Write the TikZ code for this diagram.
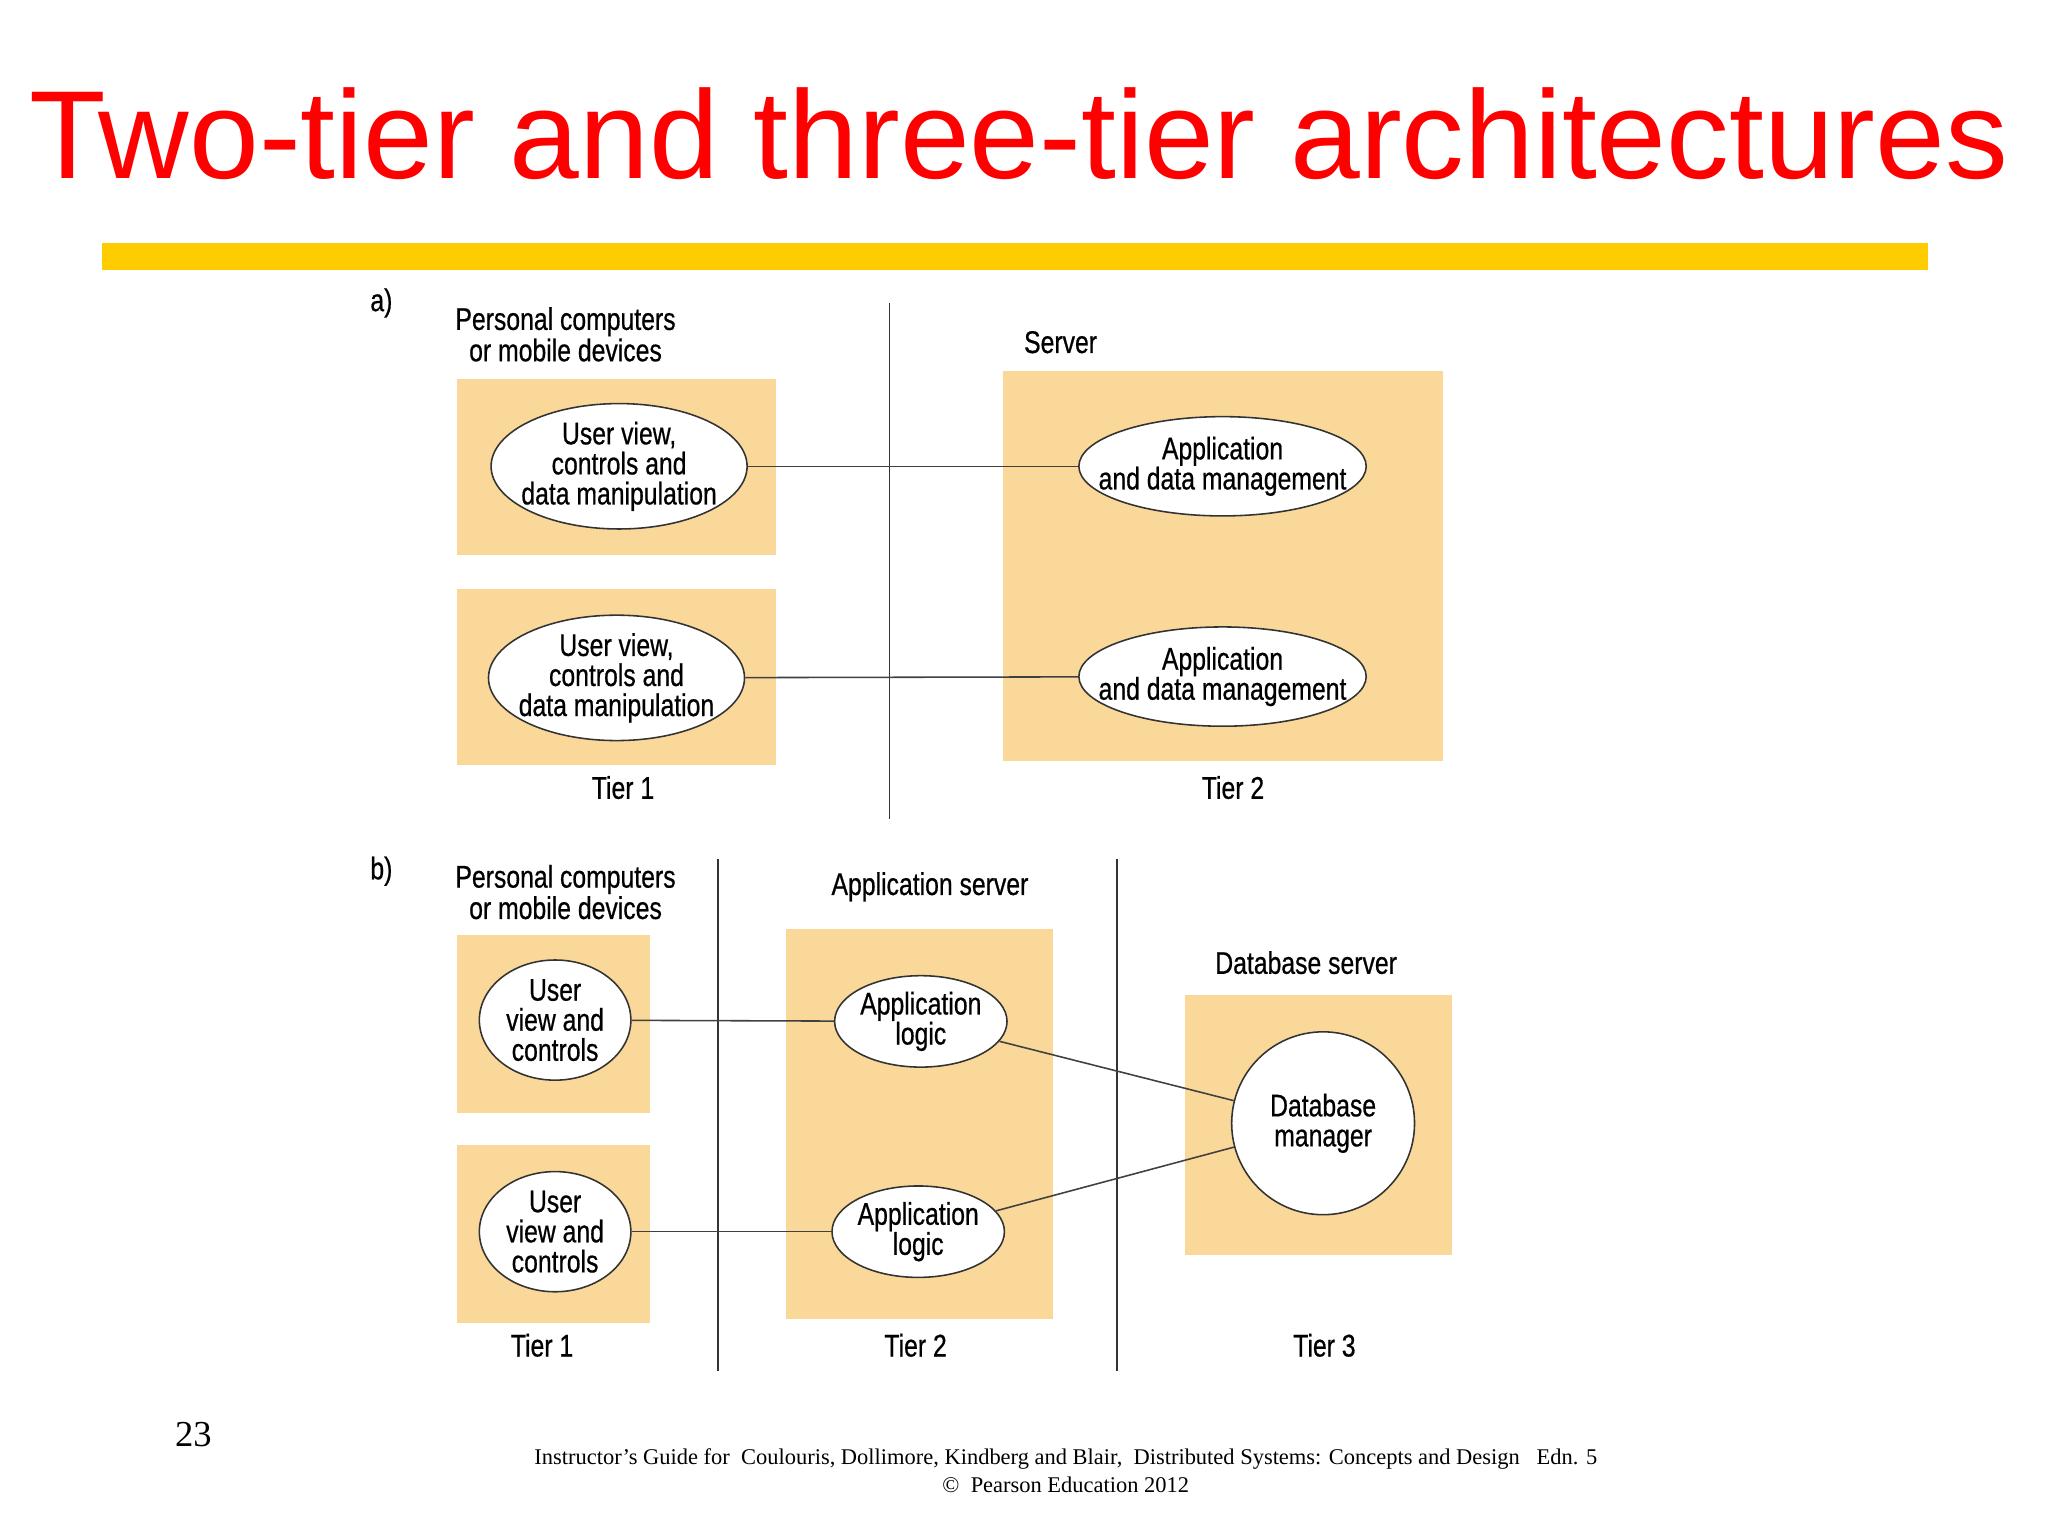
\documentclass[tikz,border=0pt]{standalone}
\usepackage{fontspec}
\setmainfont{Liberation Serif}
\newfontfamily\titlefont{Liberation Sans}
\newfontfamily\cond[FakeStretch=0.79,FakeBold=0.6]{Liberation Sans}
\usetikzlibrary{shapes.geometric}
\definecolor{boxc}{HTML}{FAD89A}
\definecolor{barc}{HTML}{FFCC00}
\begin{document}
\begin{tikzpicture}[x=0.5pt,y=-0.5pt,
  box/.style={fill=boxc,draw=none},
  ell/.style={ellipse,draw=black!80,fill=white,line width=0.6pt,inner sep=0pt},
  txt/.style={font=\cond\fontsize{12}{11.5}\selectfont,align=center,inner sep=0pt},
  lab/.style={font=\cond\fontsize{12}{12}\selectfont,align=center},
  conn/.style={draw=black!75,line width=0.6pt},
  sep/.style={draw=black!80,line width=0.7pt}]
\useasboundingbox (0,0) rectangle (1568,1176);
\node[text=red,font=\titlefont\fontsize{48}{48}\selectfont] (title) at (780,102) {Two-tier and three-tier architectures};
\fill[barc] (78,186) rectangle (1476,207);
% a)
\node[lab] (la) at (292,232) {a)};
\node[lab] (pca) at (433,256) {Personal computers\\or mobile devices};
\draw[sep] (681,232) -- (681,627);
\fill[box] (350,290) rectangle (594,425);
\fill[box] (350,451) rectangle (594,586);
\fill[box] (768,284) rectangle (1105,583);
\node[lab] (srv) at (812,262) {Server};
\node[ell,minimum width=98pt,minimum height=48pt] (u1) at (474,357) {};
\node[txt] (u1t) at (u1.center) {User view,\\controls and\\data manipulation};
\node[ell,minimum width=98pt,minimum height=48pt] (u2) at (472,519) {};
\node[txt] (u2t) at (u2.center) {User view,\\controls and\\data manipulation};
\node[ell,minimum width=110pt,minimum height=38pt] (a1) at (936,357) {};
\node[txt] (a1t) at (a1.center) {Application\\and data management};
\node[ell,minimum width=110pt,minimum height=38pt] (a2) at (936,518) {};
\node[txt] (a2t) at (a2.center) {Application\\and data management};
\draw[conn] (u1) -- (a1);
\draw[conn] (u2) -- (a2);
\node[lab] (t1a) at (477,603) {Tier 1};
\node[lab] (t2a) at (944,603) {Tier 2};
% b)
\node[lab] (lb) at (292,667) {b)};
\node[lab] (pcb) at (433,683) {Personal computers\\or mobile devices};
\draw[sep] (550,658) -- (550,1050);
\draw[sep] (855,658) -- (855,1050);
\fill[box] (350,716) rectangle (498,852);
\fill[box] (350,877) rectangle (498,1013);
\fill[box] (602,711) rectangle (806,1010);
\fill[box] (907,762) rectangle (1112,961);
\node[lab] (as) at (712,679) {Application server};
\node[lab] (ds) at (1000,737) {Database server};
\node[ell,minimum width=58pt,minimum height=46pt] (v1) at (425,781) {};
\node[txt] (v1t) at (v1.center) {User\\view and\\controls};
\node[ell,minimum width=58pt,minimum height=46pt] (v2) at (425,943) {};
\node[txt] (v2t) at (v2.center) {User\\view and\\controls};
\node[ell,minimum width=66pt,minimum height=35pt] (l1) at (705,782) {};
\node[txt] (l1t) at (l1.center) {Application\\logic};
\node[ell,minimum width=66pt,minimum height=35pt] (l2) at (703,943) {};
\node[txt] (l2t) at (l2.center) {Application\\logic};
\node[circle,draw=black!80,fill=white,line width=0.6pt,minimum size=70pt,inner sep=0pt,font=\cond\fontsize{12}{11.5}\selectfont,align=center] (db) at (1013,860) {Database\\manager};
\draw[conn] (v1) -- (l1);
\draw[conn] (v2) -- (l2);
\draw[conn] (l1) -- (db);
\draw[conn] (l2) -- (db);
\node[lab] (t1b) at (415,1030) {Tier 1};
\node[lab] (t2b) at (701,1030) {Tier 2};
\node[lab] (t3b) at (1014,1030) {Tier 3};
% footer
\node[font=\fontsize{14}{14}\selectfont] (pg) at (148,1098) {23};
\node[font=\fontsize{8.6}{10.5}\selectfont,align=center] (ft) at (816,1126) {Instructor's Guide for\ \ Coulouris, Dollimore, Kindberg and Blair,\ \ Distributed Systems: Concepts and Design\ \ \ Edn. 5\\©\ \ Pearson Education 2012};
\end{tikzpicture}
\end{document}
